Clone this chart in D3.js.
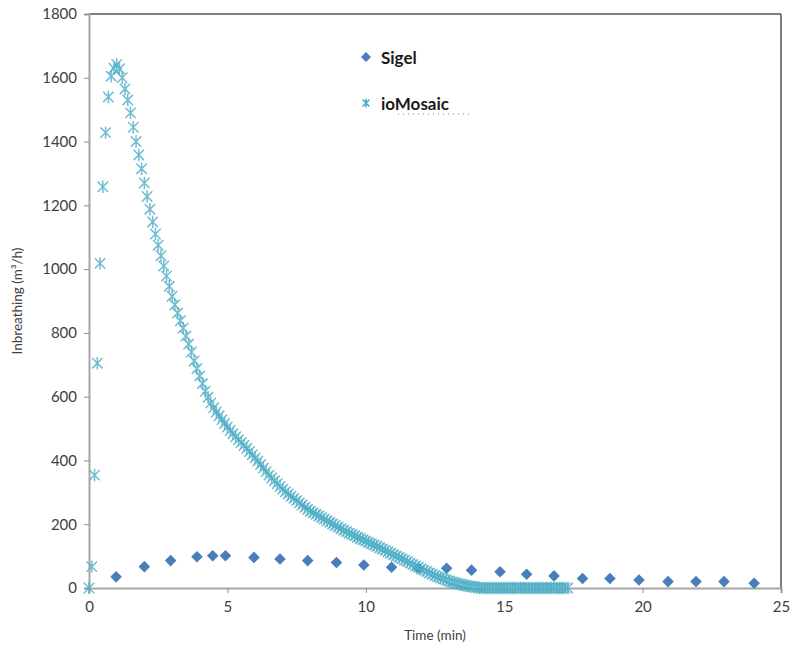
<!DOCTYPE html>
<html>
<head>
<meta charset="utf-8">
<script src="https://cdn.jsdelivr.net/npm/d3@7"></script>
<style>
  html, body { margin: 0; padding: 0; background: #fff; }
  svg { display: block; font-family: Lato, "Open Sans", sans-serif; }
</style>
</head>
<body>
<svg id="chart" width="792" height="652"></svg>
<script>
// ---- data ----
const xTicks = [0, 5, 10, 15, 20, 25];
const yTicks = [0, 200, 400, 600, 800, 1000, 1200, 1400, 1600, 1800];

const sigelTime = [0.98, 2.0, 2.95, 3.9, 4.47, 4.93, 5.96, 6.9, 7.9, 8.94, 9.93, 10.93, 11.9, 12.92, 13.82, 14.85, 15.81, 16.8, 17.83, 18.82, 19.87, 20.92, 21.93, 22.94, 24.03];
const sigelValue = [35, 67, 86, 98, 101, 101, 96, 91, 86, 80, 72, 65, 62, 62, 56, 51, 43, 38, 30, 30, 25, 20, 20, 20, 15];

const ioTime = [
  0.0, 0.1, 0.2, 0.3, 0.4, 0.5, 0.6, 0.7, 0.8, 0.9,
  1.0, 1.1, 1.2, 1.3, 1.4, 1.5, 1.6, 1.7, 1.8, 1.9,
  2.0, 2.1, 2.2, 2.3, 2.4, 2.5, 2.6, 2.7, 2.8, 2.9,
  3.0, 3.1, 3.2, 3.3, 3.4, 3.5, 3.6, 3.7, 3.8, 3.9,
  4.0, 4.1, 4.2, 4.3, 4.4, 4.5, 4.6, 4.7, 4.8, 4.9,
  5.0, 5.1, 5.2, 5.3, 5.4, 5.5, 5.6, 5.7, 5.8, 5.9,
  6.0, 6.1, 6.2, 6.3, 6.4, 6.5, 6.6, 6.7, 6.8, 6.9,
  7.0, 7.1, 7.2, 7.3, 7.4, 7.5, 7.6, 7.7, 7.8, 7.9,
  8.0, 8.1, 8.2, 8.3, 8.4, 8.5, 8.6, 8.7, 8.8, 8.9,
  9.0, 9.1, 9.2, 9.3, 9.4, 9.5, 9.6, 9.7, 9.8, 9.9,
  10.0, 10.1, 10.2, 10.3, 10.4, 10.5, 10.6, 10.7, 10.8, 10.9,
  11.0, 11.1, 11.2, 11.3, 11.4, 11.5, 11.6, 11.7, 11.8, 11.9,
  12.0, 12.1, 12.2, 12.3, 12.4, 12.5, 12.6, 12.7, 12.8, 12.9,
  13.0, 13.1, 13.2, 13.3, 13.4, 13.5, 13.6, 13.7, 13.8, 13.9,
  14.0, 14.1, 14.2, 14.3, 14.4, 14.5, 14.6, 14.7, 14.8, 14.9,
  15.0, 15.1, 15.2, 15.3, 15.4, 15.5, 15.6, 15.7, 15.8, 15.9,
  16.0, 16.1, 16.2, 16.3, 16.4, 16.5, 16.6, 16.7, 16.8, 16.9,
  17.0, 17.1, 17.2, 17.3
];
const ioValue = [
  0, 67, 354, 705, 1018, 1258, 1428, 1540, 1605, 1630,
  1642, 1628, 1600, 1565, 1530, 1490, 1445, 1400, 1358, 1315,
  1270, 1228, 1188, 1148, 1110, 1075, 1042, 1010, 978, 946,
  915, 888, 862, 838, 815, 790, 765, 740, 712, 688,
  665, 641, 617, 598, 580, 565, 552, 540, 528, 516,
  505, 494, 484, 474, 465, 456, 447, 438, 428, 418,
  408, 398, 387, 376, 365, 354, 345, 336, 327, 318,
  310, 302, 295, 288, 281, 274, 267, 260, 253, 247,
  241, 236, 231, 226, 221, 216, 211, 206, 201, 196,
  191, 186, 181, 177, 172, 168, 164, 159, 155, 151,
  147, 143, 139, 135, 131, 126, 122, 118, 113, 109,
  104, 100, 96, 92, 87, 83, 78, 74, 69, 65,
  60, 56, 52, 47, 43, 39, 35, 32, 28, 25,
  22, 19, 17, 14, 12, 10, 8, 6, 5, 3,
  2, 1, 0, 0, 0, 0, 0, 0, 0, 0,
  0, 0, 0, 0, 0, 0, 0, 0, 0, 0,
  0, 0, 0, 0, 0, 0, 0, 0, 0, 0,
  0, 0, 0, 0
];

const seriesNames = ["Sigel", "ioMosaic"];
const xTitle = "Time (min)";
const yTitle = "Inbreathing (m³/h)";

// ---- layout ----
const colSigel = "#4a7ebb";
const colIo = "#4bacc6";
const L = 89, R = 781, T = 14, B = 588;

const svg = d3.select("#chart");
const x = d3.scaleLinear().domain([0, 25]).range([L, R]);
const y = d3.scaleLinear().domain([0, 1800]).range([B, T]);

// plot border (top/right dark)
svg.append("line").attr("x1", L).attr("x2", R).attr("y1", T).attr("y2", T)
  .attr("stroke", "#555").attr("stroke-width", 1.5);
svg.append("line").attr("x1", R).attr("x2", R).attr("y1", T).attr("y2", B)
  .attr("stroke", "#555").attr("stroke-width", 1.5);

// axes
const yAxis = svg.append("g").attr("transform", `translate(${L},0)`)
  .call(d3.axisLeft(y).tickValues(yTicks).tickSize(5).tickPadding(7).tickFormat(d3.format("d")));
const xAxis = svg.append("g").attr("transform", `translate(0,${B})`)
  .call(d3.axisBottom(x).tickValues(xTicks).tickSize(5).tickPadding(8).tickFormat(d3.format("d")));
[yAxis, xAxis].forEach(g => {
  g.select(".domain").attr("stroke", "#a6a6a6").attr("stroke-width", 2);
  g.selectAll(".tick line").attr("stroke", "#8c8c8c");
  g.selectAll(".tick text").attr("fill", "#404040").style("font-size", "15px")
    .style("font-family", "Lato, 'Open Sans', sans-serif");
});

// axis titles
svg.append("text").attr("x", (L + R) / 2).attr("y", 640).attr("text-anchor", "middle")
  .attr("fill", "#404040").style("font-size", "13.5px").text(xTitle);
svg.append("text").attr("transform", `translate(22,${(T + B) / 2}) rotate(-90)`)
  .attr("text-anchor", "middle").attr("fill", "#404040").style("font-size", "13.5px").text(yTitle);

// marker generators
const diamond = (s) => `M0,${-s}L${s},0L0,${s}L${-s},0Z`;
const star = (s) => `M${-s},${-s}L${s},${s}M${-s},${s}L${s},${-s}M0,${-s * 1.2}L0,${s * 1.2}`;

// Sigel series
const sigelData = sigelTime.map((t, i) => ({ t, v: sigelValue[i] }));
svg.append("g").selectAll("path").data(sigelData).join("path")
  .attr("transform", d => `translate(${x(d.t)},${y(d.v)})`)
  .attr("d", diamond(5.8)).attr("fill", colSigel);

// ioMosaic series
const ioData = ioTime.map((t, i) => ({ t, v: ioValue[i] }));
svg.append("g").selectAll("path").data(ioData).join("path")
  .attr("transform", d => `translate(${x(d.t)},${y(d.v)})`)
  .attr("d", star(5.2)).attr("fill", "none").attr("stroke", colIo)
  .attr("stroke-width", 1.5).attr("stroke-opacity", 0.8);

// legend
const lg = svg.append("g");
lg.append("path").attr("transform", "translate(366,57)").attr("d", diamond(5)).attr("fill", colSigel);
lg.append("text").attr("x", 381).attr("y", 64).attr("fill", "#1a1a1a")
  .style("font-size", "17px").style("font-weight", "bold").text(seriesNames[0]);
lg.append("path").attr("transform", "translate(366,103)").attr("d", star(3.5))
  .attr("fill", "none").attr("stroke", colIo).attr("stroke-width", 1.6);
lg.append("text").attr("x", 381).attr("y", 110).attr("fill", "#1a1a1a")
  .style("font-size", "17px").style("font-weight", "bold").text(seriesNames[1]);
lg.append("line").attr("x1", 398).attr("x2", 470).attr("y1", 114).attr("y2", 114)
  .attr("stroke", "#e06060").attr("stroke-width", 1).attr("stroke-dasharray", "1,4");
</script>
</body>
</html>
